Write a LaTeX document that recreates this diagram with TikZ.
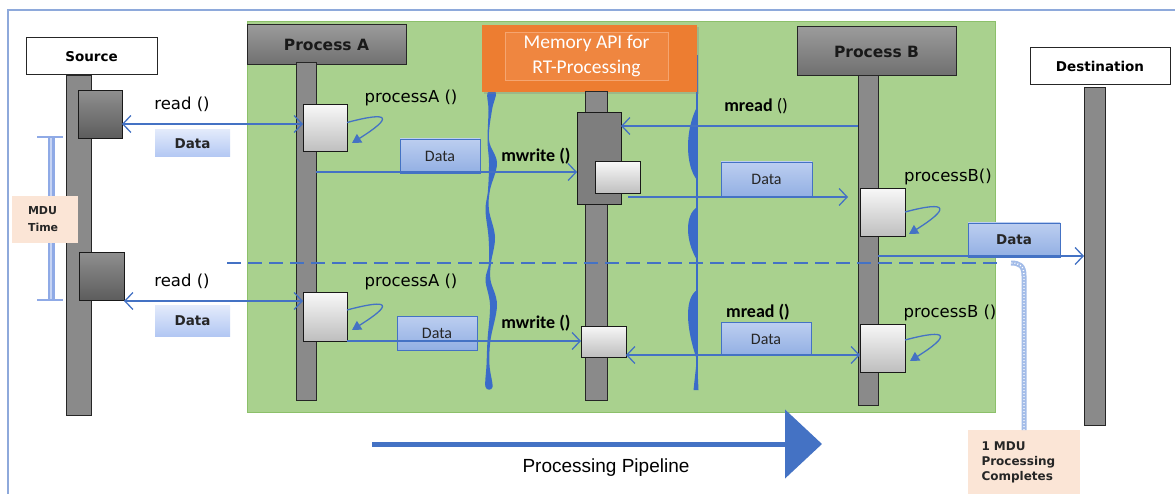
\documentclass[tikz,border=0pt]{standalone}
\usepackage{fontspec}
\setmainfont{DejaVu Sans}
\newfontfamily\carl{Carlito}
\newfontfamily\arialf{Liberation Sans}
\usetikzlibrary{arrows.meta,shadows}
\definecolor{lblue}{HTML}{4472C4}
\definecolor{wblue}{HTML}{3A6BC9}
\definecolor{frameblue}{HTML}{8EA9DB}
\definecolor{greenbg}{HTML}{A9D18E}
\definecolor{greenbd}{HTML}{8CC06A}
\definecolor{orangebg}{HTML}{ED7D31}
\definecolor{orangein}{HTML}{EF8640}
\definecolor{orangeln}{HTML}{F5A570}
\definecolor{peach}{HTML}{FBE5D6}
\definecolor{lifegray}{HTML}{8A8A8A}
\definecolor{mdubar}{HTML}{8FAAE6}
\definecolor{mdulight}{HTML}{C6D4F4}
\definecolor{chk}{HTML}{A3BCE8}
\definecolor{hdrtop}{HTML}{9B9B9B}
\definecolor{hdrbot}{HTML}{6F6F6F}
\definecolor{darktop}{HTML}{8E8E8E}
\definecolor{darkbot}{HTML}{5C5C5C}
\definecolor{lighttop}{HTML}{F7F7F7}
\definecolor{lightbot}{HTML}{BEBEBE}
\definecolor{ldtop}{HTML}{E2EAFB}
\definecolor{ldbot}{HTML}{B2C7F3}
\definecolor{mdtop}{HTML}{BCCEF0}
\definecolor{mdbot}{HTML}{92AFE3}
\definecolor{memgray}{HTML}{7E7E7E}
\newcommand\fnA{\fontsize{16.5}{19}\selectfont}
\newcommand\fnM{\carl\fontsize{18}{21}\selectfont\bfseries}
\tikzset{
  box/.style={rectangle, inner sep=0pt, outer sep=0pt},
  lifeline/.style={box, draw=black!85, line width=1pt, fill=lifegray},
  whitehdr/.style={box, draw=black!85, line width=1pt, fill=white, font=\fontsize{13.5}{16}\selectfont\bfseries},
  grayhdr/.style={box, draw=black!85, line width=1pt, top color=hdrtop, bottom color=hdrbot, font=\fontsize{15.5}{18}\selectfont\bfseries, text=black!90},
  darkact/.style={box, draw=black!90, line width=1pt, top color=darktop, bottom color=darkbot},
  lightact/.style={box, draw=black!90, line width=1pt, top color=lighttop, bottom color=lightbot},
  memact/.style={box, draw=black!90, line width=1pt, fill=memgray},
  ldata/.style={box, top color=ldtop, bottom color=ldbot, font=\fontsize{13.5}{16}\selectfont\bfseries, text=black!85},
  mdata/.style={box, top color=mdtop, bottom color=mdbot, draw=lblue, line width=0.8pt, font=\carl\fontsize{16}{19}\selectfont, text=black!85},
  peachbox/.style={box, fill=peach, font=\fontsize{11}{17}\selectfont\bfseries, align=left, text=black!85},
  lbl/.style={inner sep=0pt, outer sep=0pt},
  conn/.style={draw=lblue, line width=1.3pt, >={Straight Barb[length=8pt,width=17pt]}},
  selfloop/.style={draw=lblue, line width=1.3pt, -{Triangle[length=9pt,width=10pt]}},
}
\begin{document}
\begin{tikzpicture}[x=1pt,y=-1pt]
\useasboundingbox (0,0) rectangle (1175,494);
\fill[white] (0,0) rectangle (1175,494);
% frame
\draw[frameblue, line width=1.2pt] (8,494) -- (8,10) -- (1175,10);
% green area
\fill[greenbg, draw=greenbd, line width=1pt] (247,22) rectangle (995,412);

% wavy boundaries
\fill[wblue] plot[smooth cycle, tension=0.6] coordinates {(496,93) (492,110) (489,140) (497,163) (490,190) (489,210) (495,237) (491,263) (490.5,280) (497,305) (490.5,340) (489.5,365) (492.5,387) (485.5,387) (486.5,365) (487.5,340) (490,305) (485.5,280) (489,263) (488.5,237) (485.5,210) (488,190) (489,163) (487.5,140) (488.5,110) (487.5,93)};
\draw[wblue, line width=1.6pt] (697,55) -- (697,388);
\fill[wblue] (697,57) .. controls (686,68) and (686,85) .. (697,92) -- cycle;
\fill[wblue] (697,107) .. controls (685,130) and (685,165) .. (697,180) -- cycle;
\fill[wblue] (697,207) .. controls (685,215) and (685,240) .. (697,260) -- cycle;
\fill[wblue] (697,290) .. controls (685,298) and (685,325) .. (697,360) -- cycle;
\fill[wblue] (697,358) -- (693.5,390) -- (698.5,390) -- cycle;

% memory API box
\node[box, fill=orangebg, minimum width=215pt, minimum height=67pt, drop shadow={opacity=0.3, shadow xshift=2pt, shadow yshift=-2pt}] (mem) at (589.5,58.5) {};
\node[box, fill=orangein, draw=orangeln, line width=0.6pt, minimum width=163pt, minimum height=48pt, text=white, align=center, font=\carl\fontsize{19.5}{25}\selectfont] (memin) at (586.5,56) {Memory API for\\RT-Processing};

% headers
\node[whitehdr, minimum width=131pt, minimum height=37pt] (src) at (91.5,56.5) {Source};
\node[grayhdr, minimum width=159pt, minimum height=40pt] (pahdr) at (326.5,45) {Process A};
\node[grayhdr, minimum width=159pt, minimum height=49pt] (pbhdr) at (876.5,51.5) {Process B};
\node[whitehdr, minimum width=140pt, minimum height=37pt] (dst) at (1100,66.5) {Destination};

% lifelines
\node[lifeline, minimum width=25pt, minimum height=339pt] (sl) at (78.5,245.5) {};
\node[lifeline, minimum width=20pt, minimum height=337pt] (pal) at (306,231.5) {};
\node[lifeline, minimum width=22pt, minimum height=308pt] (ml) at (596,246) {};
\node[lifeline, minimum width=20pt, minimum height=329pt] (pbl) at (868,240.5) {};
\node[lifeline, minimum width=21pt, minimum height=337pt] (dl) at (1094.5,256.5) {};

% activations
\node[darkact, minimum width=44pt, minimum height=48pt] (sa1) at (100,115) {};
\node[darkact, minimum width=45pt, minimum height=48pt] (sa2) at (101.5,277) {};
\node[lightact, minimum width=44pt, minimum height=47pt] (pa1) at (325,128.5) {};
\node[lightact, minimum width=44pt, minimum height=48pt] (pa2) at (325,317) {};
\node[memact, minimum width=44pt, minimum height=92pt] (mb) at (599,159) {};
\node[lightact, minimum width=45pt, minimum height=32pt] (ms) at (617.5,178) {};
\node[lightact, minimum width=45pt, minimum height=31pt] (ma2) at (603.5,341.5) {};
\node[lightact, minimum width=45pt, minimum height=48pt] (pb1) at (882.5,213) {};
\node[lightact, minimum width=45pt, minimum height=48pt] (pb2) at (882.5,348) {};

% data boxes
\node[ldata, minimum width=75pt, minimum height=27pt] (dl1) at (192.5,143.5) {Data};
\node[ldata, minimum width=75pt, minimum height=30pt] (dl2) at (192.5,321) {Data};
\node[mdata, minimum width=80pt, minimum height=34pt] (dm1) at (440,156) {Data};
\node[mdata, minimum width=80pt, minimum height=34pt] (dm2) at (437,333) {Data};
\node[mdata, minimum width=91pt, minimum height=35pt] (dm3) at (766.5,179.5) {Data};
\node[mdata, minimum width=90pt, minimum height=33pt] (dm4) at (766,339) {Data};
\node[mdata, minimum width=92pt, minimum height=34pt, font=\fontsize{13.5}{16}\selectfont\bfseries] (dd) at (1014,240) {Data};

% MDU time bracket
\coordinate (mdut) at (51,137);
\coordinate (mdub) at (51,300);
\coordinate (mdutl) at (37,137);
\coordinate (mdutr) at (63,137);
\coordinate (mdubl) at (37,300);
\coordinate (mdubr) at (63,300);
\draw[mdubar, line width=7pt] (mdut) -- (mdub);
\draw[mdulight, line width=2pt] (mdut) -- (mdub);
\draw[mdubar, line width=2pt] (mdutl) -- (mdutr);
\draw[mdubar, line width=2pt] (mdubl) -- (mdubr);
\node[peachbox, minimum width=66pt, minimum height=47pt, text width=34pt] (mdutbox) at (45,219.5) {MDU\\Time};

% 1 MDU box
\node[peachbox, minimum width=112pt, minimum height=64pt, text width=85pt, font=\fontsize{12}{15}\selectfont\bfseries] (mdu1) at (1024,462) {1 MDU\\Processing\\Completes};

% connectors
\draw[conn, <->] ([yshift=-9pt]sa1.east) -- ([yshift=-9pt]sa1.east -| pa1.west);
\draw[conn, <->] (sa2.south east) -- (sa2.south east -| pa2.west);
\draw[conn, ->] ([yshift=59.5pt]pal.east) -- ([yshift=59.5pt]pal.east -| mb.west);
\draw[conn, ->] (pa2.south east) -- (pa2.south east -| ma2.west);
\draw[conn, ->] ([yshift=114.5pt]pbl.west) -- ([yshift=114.5pt]pbl.west -| mb.east);
\draw[conn, ->] ([xshift=-12pt,yshift=-3pt]ms.south east) -- ([xshift=-12pt,yshift=-3pt]ms.south east -| pb1.west);
\draw[conn, <->] ([yshift=-13.5pt]ma2.east) -- ([yshift=-13.5pt]ma2.east -| pb2.west);
\draw[conn, ->] ([yshift=-15.5pt]pbl.east) -- ([yshift=-15.5pt]pbl.east -| dl.west);

% self loops
\draw[selfloop] ([yshift=6pt]pa1.east) .. controls +(45,-12) and +(40,-25) .. ([xshift=5pt,yshift=9pt]pa1.south east);
\draw[selfloop] ([yshift=7pt]pa2.east) .. controls +(45,-12) and +(40,-25) .. ([xshift=5pt,yshift=11pt]pa2.south east);
\draw[selfloop] ([yshift=1pt]pb1.east) .. controls +(45,-12) and +(40,-25) .. ([xshift=4pt,yshift=3pt]pb1.south east);
\draw[selfloop] ([yshift=8pt]pb2.east) .. controls +(45,-12) and +(40,-25) .. ([xshift=5pt,yshift=11pt]pb2.south east);

% dashed MDU line
\coordinate (dashs) at (227,263);
\coordinate (dashe) at (1000,263);
\draw[lblue, line width=1.3pt, dash pattern=on 14pt off 7pt] (dashs) -- (dashe);

% completion marker
\coordinate (chkturn) at (1024,276);
\coordinate (hook) at (1011,263);
\draw[chk, line width=5pt] (mdu1.north) -- (chkturn) .. controls (1024,266) and (1020,263) .. (hook);
\draw[white, line width=1.4pt, dash pattern=on 1pt off 2pt] (mdu1.north) -- (chkturn) .. controls (1024,266) and (1020,263) .. (hook);

% pipeline arrow
\coordinate (pipes) at (372,444);
\coordinate (pipee) at (822,444);
\draw[lblue, line width=5pt, -{Triangle[length=37pt,width=68pt]}] (pipes) -- (pipee);
\node[lbl, font=\arialf\fontsize{19}{22}\selectfont] (lpipe) at (606,468) {Processing Pipeline};

% labels
\node[lbl, font=\fnA] (lread1) at (182,104) {read ()};
\node[lbl, font=\fnA] (lread2) at (182,281) {read ()};
\node[lbl, font=\fnA] (lpa1) at (411,98) {processA ()};
\node[lbl, font=\fnA] (lpa2) at (411,282) {processA ()};
\node[lbl, font=\fnM] (lmw1) at (536,156) {mwrite ()};
\node[lbl, font=\fnM] (lmw2) at (536,323) {mwrite ()};
\node[lbl, font=\fnM] (lmr1) at (756,106) {mread {\mdseries ()}};
\node[lbl, font=\fnM] (lmr2) at (758,312) {mread ()};
\node[lbl, font=\fnA] (lpb1) at (948,177) {processB()};
\node[lbl, font=\fnA] (lpb2) at (950,313) {processB ()};
\end{tikzpicture}
\end{document}
